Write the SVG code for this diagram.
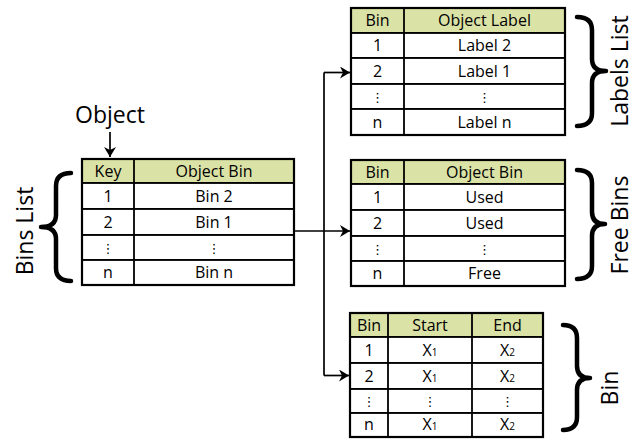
<svg xmlns="http://www.w3.org/2000/svg" width="634" height="439" viewBox="0 0 634 439">
  <defs>
    <marker id="arrow" markerUnits="userSpaceOnUse" markerWidth="11" markerHeight="12" refX="10" refY="6" orient="auto">
      <path d="M0,0 L10,6 L0,12 L3,6 Z" fill="#000"/>
    </marker>
  </defs>
  <style>
    .cell { fill: #fff; stroke: #000; stroke-width: 1.8; }
    .head { fill: #dbe2a6; stroke: #000; stroke-width: 1.8; }
    .frame { fill: none; stroke: #000; stroke-width: 2.2; }
    .t { font-family: "Open Sans", "Liberation Sans", sans-serif; font-size: 16px; fill: #000; text-anchor: middle; }
    .dots { font-family: "DejaVu Sans", sans-serif; font-size: 13px; fill: #000; text-anchor: middle; }
    .sub { font-size: 10px; }
    .big { font-family: "Open Sans", "Liberation Sans", sans-serif; font-size: 23px; fill: #000; text-anchor: middle; }
    .brace { fill: none; stroke: #000; stroke-width: 4.5; stroke-linecap: round; stroke-linejoin: round; }
    .link { fill: none; stroke: #000; stroke-width: 1.7; }
  </style>

  <!-- Bins list: Key -> Object Bin -->
  <g id="bins-list">
    <rect class="head" x="82" y="159" width="212" height="24"/>
    <rect class="cell" x="82" y="183" width="212" height="26"/>
    <rect class="cell" x="82" y="209" width="212" height="26"/>
    <rect class="cell" x="82" y="235" width="212" height="25"/>
    <rect class="cell" x="82" y="260" width="212" height="25"/>
    <line x1="134" y1="159" x2="134" y2="285" stroke="#000" stroke-width="1.8"/>
    <rect class="frame" x="82" y="159" width="212" height="126"/>
    <text class="t" x="108" y="177">Key</text>
    <text class="t" x="214" y="177">Object Bin</text>
    <text class="t" x="108" y="202">1</text>
    <text class="t" x="214" y="202">Bin 2</text>
    <text class="t" x="108" y="228">2</text>
    <text class="t" x="214" y="228">Bin 1</text>
    <text class="dots" x="108" y="253">⋮</text>
    <text class="dots" x="214" y="253">⋮</text>
    <text class="t" x="108" y="278">n</text>
    <text class="t" x="214" y="278">Bin n</text>
    <path class="brace" d="M71,173 Q56,173 56,186 L56,215 Q56,227 41,227 Q56,227 56,239 L56,268 Q56,281 71,281"/>
    <text class="big" transform="translate(33,231) rotate(-90)">Bins List</text>
  </g>

  <!-- Object input -->
  <g id="object">
    <text class="big" x="110" y="123">Object</text>
  </g>

  <!-- Labels list: Bin -> Object Label -->
  <g id="labels-list">
    <rect class="head" x="351" y="8" width="214" height="25"/>
    <rect class="cell" x="351" y="33" width="214" height="25"/>
    <rect class="cell" x="351" y="58" width="214" height="26"/>
    <rect class="cell" x="351" y="84" width="214" height="25"/>
    <rect class="cell" x="351" y="109" width="214" height="26"/>
    <line x1="404" y1="8" x2="404" y2="135" stroke="#000" stroke-width="1.8"/>
    <rect class="frame" x="351" y="8" width="214" height="127"/>
    <text class="t" x="377.5" y="26">Bin</text>
    <text class="t" x="484.5" y="26">Object Label</text>
    <text class="t" x="377.5" y="51">1</text>
    <text class="t" x="484.5" y="51">Label 2</text>
    <text class="t" x="377.5" y="77">2</text>
    <text class="t" x="484.5" y="77">Label 1</text>
    <text class="dots" x="377.5" y="102">⋮</text>
    <text class="dots" x="484.5" y="102">⋮</text>
    <text class="t" x="377.5" y="128">n</text>
    <text class="t" x="484.5" y="128">Label n</text>
    <path class="brace" d="M577,17 Q592,17 592,30 L592,59 Q592,71 606,71 Q592,71 592,83 L592,113 Q592,126 577,126"/>
    <text class="big" transform="translate(628,71) rotate(-90)">Labels List</text>
  </g>

  <!-- Free bins: Bin -> Object Bin -->
  <g id="free-bins">
    <rect class="head" x="351" y="160" width="214" height="24"/>
    <rect class="cell" x="351" y="184" width="214" height="26"/>
    <rect class="cell" x="351" y="210" width="214" height="26"/>
    <rect class="cell" x="351" y="236" width="214" height="25"/>
    <rect class="cell" x="351" y="261" width="214" height="25"/>
    <line x1="404" y1="160" x2="404" y2="286" stroke="#000" stroke-width="1.8"/>
    <rect class="frame" x="351" y="160" width="214" height="126"/>
    <text class="t" x="377.5" y="178">Bin</text>
    <text class="t" x="484.5" y="178">Object Bin</text>
    <text class="t" x="377.5" y="203">1</text>
    <text class="t" x="484.5" y="203">Used</text>
    <text class="t" x="377.5" y="229">2</text>
    <text class="t" x="484.5" y="229">Used</text>
    <text class="dots" x="377.5" y="254">⋮</text>
    <text class="dots" x="484.5" y="254">⋮</text>
    <text class="t" x="377.5" y="279">n</text>
    <text class="t" x="484.5" y="279">Free</text>
    <path class="brace" d="M577,170 Q592,170 592,183 L592,212 Q592,224 605,224 Q592,224 592,236 L592,266 Q592,279 577,279"/>
    <text class="big" transform="translate(628,225) rotate(-90)">Free Bins</text>
  </g>

  <!-- Bin extents: Bin -> Start, End -->
  <g id="bin">
    <rect class="head" x="350" y="313" width="193" height="24"/>
    <rect class="cell" x="350" y="337" width="193" height="26"/>
    <rect class="cell" x="350" y="363" width="193" height="26"/>
    <rect class="cell" x="350" y="389" width="193" height="24"/>
    <rect class="cell" x="350" y="413" width="193" height="24"/>
    <line x1="388" y1="313" x2="388" y2="437" stroke="#000" stroke-width="1.8"/>
    <line x1="472" y1="313" x2="472" y2="437" stroke="#000" stroke-width="1.8"/>
    <rect class="frame" x="350" y="313" width="193" height="124"/>
    <text class="t" x="369" y="331">Bin</text>
    <text class="t" x="430" y="331">Start</text>
    <text class="t" x="507.5" y="331">End</text>
    <text class="t" x="369" y="356">1</text>
    <text class="t" x="430" y="356">X<tspan class="sub">1</tspan></text>
    <text class="t" x="507.5" y="356">X<tspan class="sub">2</tspan></text>
    <text class="t" x="369" y="382">2</text>
    <text class="t" x="430" y="382">X<tspan class="sub">1</tspan></text>
    <text class="t" x="507.5" y="382">X<tspan class="sub">2</tspan></text>
    <text class="dots" x="369" y="406">⋮</text>
    <text class="dots" x="430" y="406">⋮</text>
    <text class="dots" x="507.5" y="406">⋮</text>
    <text class="t" x="369" y="430">n</text>
    <text class="t" x="430" y="430">X<tspan class="sub">1</tspan></text>
    <text class="t" x="507.5" y="430">X<tspan class="sub">2</tspan></text>
    <path class="brace" d="M563,325 Q577,325 577,338 L577,366 Q577,378 590,378 Q577,378 577,390 L577,417 Q577,430 563,430"/>
    <text class="big" font-size="22" transform="translate(618,388) rotate(-90)">Bin</text>
  </g>

  <!-- Connectors -->
  <g id="connectors">
    <line class="link" x1="110" y1="132" x2="110" y2="157" marker-end="url(#arrow)"/>
    <line class="link" x1="294" y1="231" x2="350" y2="231" marker-end="url(#arrow)"/>
    <line class="link" x1="324" y1="231" x2="324" y2="72.5"/>
    <line class="link" x1="324" y1="231" x2="324" y2="375.5"/>
    <path class="link" d="M324,72.5 L350,72.5" marker-end="url(#arrow)"/>
    <path class="link" d="M324,375.5 L349,375.5" marker-end="url(#arrow)"/>
  </g>
</svg>
